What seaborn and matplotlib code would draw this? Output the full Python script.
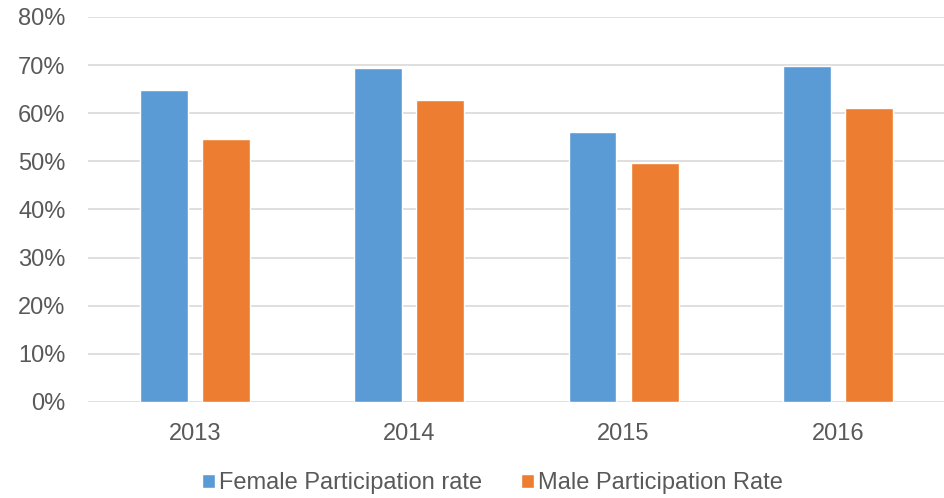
import pandas as pd
import seaborn as sns
import matplotlib.pyplot as plt
from matplotlib.ticker import PercentFormatter

years = ["2013", "2014", "2015", "2016"]
female = [64.8, 69.4, 56.1, 69.7]
male = [54.7, 62.8, 49.6, 61.1]
series = ["Female Participation rate", "Male Participation Rate"]

df = pd.DataFrame({
    "year": years * 2,
    "rate": female + male,
    "series": [series[0]] * 4 + [series[1]] * 4,
})

sns.set_style("white")
plt.rcParams['font.family'] = ['Liberation Sans', 'DejaVu Sans']

fig = plt.figure(figsize=(9.45, 4.98), dpi=100)
ax = fig.add_axes([0.093, 0.193, 0.907, 0.773])

sns.barplot(data=df, x="year", y="rate", hue="series",
            palette=["#5B9BD5", "#ED7D31"], width=0.58, gap=0.23,
            saturation=1, ax=ax)

ax.set_ylim(0, 80)
ax.set_yticks(range(0, 81, 10))
ax.yaxis.set_major_formatter(PercentFormatter(decimals=0))
ax.set_xlim(-0.5, 3.5)
ax.grid(axis="y", color="#D9D9D9", linewidth=1.2)
ax.set_axisbelow(True)
for s in ax.spines.values():
    s.set_visible(False)
ax.set_xlabel("")
ax.set_ylabel("")
ax.tick_params(axis="both", length=0, labelsize=17, labelcolor="#595959")
ax.tick_params(axis="y", pad=16)
ax.tick_params(axis="x", pad=15)

ax.legend(loc="upper center", bbox_to_anchor=(0.472, -0.127), ncol=2,
          frameon=False, fontsize=17, labelcolor="#595959",
          handlelength=0.55, handleheight=0.55, handletextpad=0.15,
          columnspacing=1.65)

fig.savefig("out.png", dpi=100)
